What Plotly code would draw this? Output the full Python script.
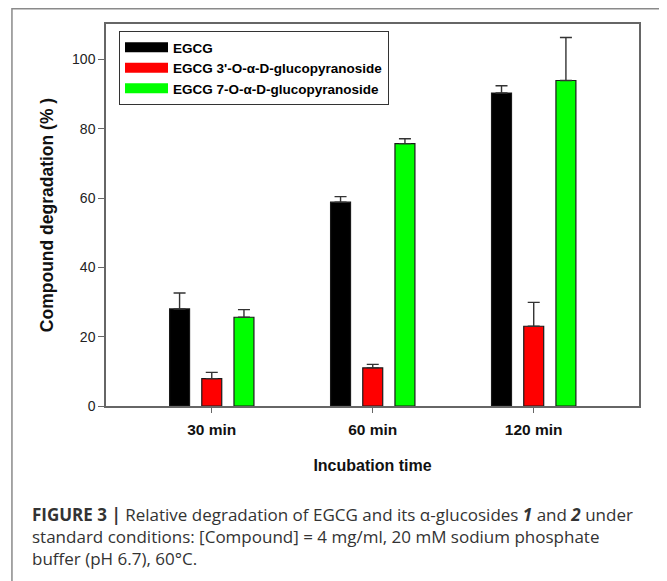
import plotly.graph_objects as go

categories = ["30 min", "60 min", "120 min"]
series_names = ["EGCG", "EGCG 3'-O-α-D-glucopyranoside", "EGCG 7-O-α-D-glucopyranoside"]
egcg = [28.0, 58.8, 90.3]
egcg_err = [4.6, 1.6, 2.1]
gluc3 = [7.9, 11.0, 23.0]
gluc3_err = [1.8, 1.0, 6.9]
gluc7 = [25.6, 75.7, 93.9]
gluc7_err = [2.2, 1.4, 12.4]
y_ticks = [0, 20, 40, 60, 80, 100]

colors = ["#000000", "#ff0000", "#00ff00"]
values = [egcg, gluc3, gluc7]
errors = [egcg_err, gluc3_err, gluc7_err]

caption_lines = [
    "<b>FIGURE 3 |</b> Relative degradation of EGCG and its α-glucosides "
    "<b><i>1</i></b> and <b><i>2</i></b> under",
    "standard conditions: [Compound] = 4 mg/ml, 20 mM sodium phosphate",
    "buffer (pH 6.7), 60°C.",
]

FONT = "Liberation Sans, Arial, Helvetica, sans-serif"
CAP_FONT = "Open Sans, DejaVu Sans, Liberation Sans, sans-serif"

fig = go.Figure()
for name, vals, errs, col in zip(series_names, values, errors, colors):
    fig.add_trace(go.Bar(
        x=categories, y=vals, name=name, showlegend=False,
        marker=dict(color=col, line=dict(color="#1a1a1a", width=1.2)),
        error_y=dict(type="data", symmetric=False, array=errs,
                     arrayminus=[0] * len(errs), color="#333333",
                     thickness=1.4, width=6),
    ))
# legend entries (no data drawn)
for name, col in zip(series_names, colors):
    fig.add_trace(go.Scatter(
        x=[None], y=[None], mode="lines", name=name,
        line=dict(color=col, width=10), hoverinfo="skip",
    ))

# page has an 8px body margin: figure is drawn offset by (8, 8)
OFF = 8
W, H = 667 - OFF, 581 - OFF
L = 106 - OFF
R = W - (638.7 - OFF)
T = 24 - OFF
B = H - (406.5 - OFF)
pw = W - L - R
ph = H - T - B

def px_x(x):
    return (x - OFF - L) / pw

def px_y(y):
    return (H - B - (y - OFF)) / ph

fig.update_layout(
    width=W, height=H,
    margin=dict(l=L, r=R, t=T, b=B, autoexpand=False),
    paper_bgcolor="white", plot_bgcolor="white",
    barmode="group", bargap=0.4, bargroupgap=0.38,
    font=dict(family=FONT, color="#111111"),
    legend=dict(
        x=px_x(119), y=px_y(31), xanchor="left", yanchor="top",
        bordercolor="#333333", borderwidth=1, bgcolor="white",
        font=dict(family=FONT, size=13.5, color="#000000", weight="bold"),
        itemwidth=43, tracegroupgap=0,
    ),
    xaxis=dict(
        range=[-0.657, 2.654], showgrid=False, zeroline=False,
        showline=True, linecolor="#666666", linewidth=1.5, mirror=True,
        ticks="outside", ticklen=5, tickcolor="#666666", tickwidth=1.2,
        ticklabelstandoff=4,
        tickfont=dict(family=FONT, size=15.5, color="#111111", weight="bold"),
        title=dict(text="<b>Incubation time</b>", standoff=22,
                   font=dict(family=FONT, size=16, color="#111111")),
        automargin=False,
    ),
    yaxis=dict(
        range=[0, 110.2], showgrid=False, zeroline=False,
        tickvals=y_ticks,
        showline=True, linecolor="#666666", linewidth=1.5, mirror=True,
        ticks="outside", ticklen=6, tickcolor="#666666", tickwidth=1.2,
        tickfont=dict(family=FONT, size=14, color="#222222"),
        title=dict(text="<b>Compound degradation (% )</b>", standoff=14,
                   font=dict(family=FONT, size=17.5, color="#111111")),
        automargin=False,
    ),
)

# outer figure frame
fig.add_shape(type="rect", xref="paper", yref="paper",
              x0=px_x(12), x1=px_x(665.5), y0=px_y(620), y1=px_y(8.7),
              line=dict(color="#8a8a8a", width=1.5), fillcolor="rgba(0,0,0,0)",
              layer="below")

fig.add_annotation(text="<br>".join(caption_lines), xref="paper", yref="paper",
                   x=px_x(30), y=px_y(537.3), xanchor="left", yanchor="middle",
                   align="left", showarrow=False,
                   font=dict(family=CAP_FONT, size=17, color="#333333"))

fig.write_html("out.html")
